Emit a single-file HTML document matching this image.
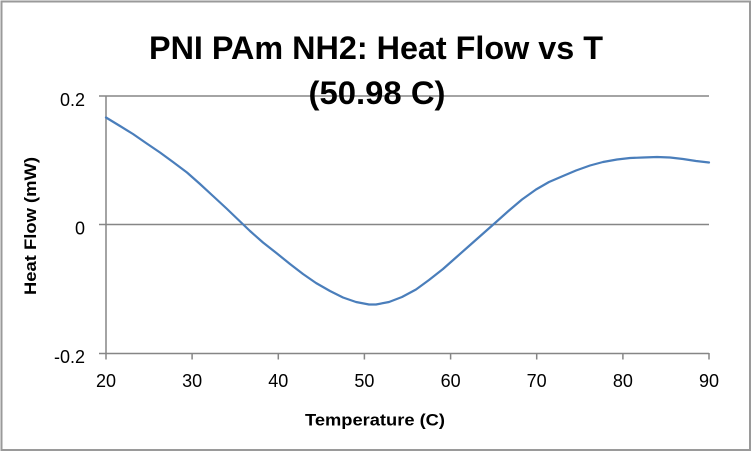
<!DOCTYPE html>
<html>
<head>
<meta charset="utf-8">
<style>
  html, body { margin: 0; padding: 0; background: #ffffff; }
  svg { display: block; }
  text { font-family: "Liberation Sans", "DejaVu Sans", sans-serif; fill: #000; }
</style>
</head>
<body>
<svg width="752" height="452" viewBox="0 0 752 452" xmlns="http://www.w3.org/2000/svg">
  <rect x="0" y="0" width="752" height="452" fill="#ffffff"/>
  <rect x="1.5" y="1.5" width="748.5" height="448.5" fill="none" stroke="#9a9a9a" stroke-width="2"/>

  <!-- gridlines -->
  <line x1="106" y1="96" x2="709" y2="96" stroke="#868686" stroke-width="1.5"/>
  <line x1="106" y1="224.5" x2="709" y2="224.5" stroke="#868686" stroke-width="1.5"/>

  <!-- axes -->
  <line x1="106" y1="96" x2="106" y2="353.5" stroke="#868686" stroke-width="1.5"/>
  <line x1="99" y1="353.5" x2="709" y2="353.5" stroke="#868686" stroke-width="1.5"/>

  <!-- y ticks -->
  <line x1="99" y1="96" x2="106" y2="96" stroke="#868686" stroke-width="1.5"/>
  <line x1="99" y1="224.5" x2="106" y2="224.5" stroke="#868686" stroke-width="1.5"/>

  <!-- x ticks -->
  <g stroke="#868686" stroke-width="1.5">
    <line x1="106" y1="353" x2="106" y2="359.5"/>
    <line x1="192.1" y1="353" x2="192.1" y2="359.5"/>
    <line x1="278.3" y1="353" x2="278.3" y2="359.5"/>
    <line x1="364.4" y1="353" x2="364.4" y2="359.5"/>
    <line x1="450.6" y1="353" x2="450.6" y2="359.5"/>
    <line x1="536.7" y1="353" x2="536.7" y2="359.5"/>
    <line x1="622.9" y1="353" x2="622.9" y2="359.5"/>
    <line x1="709" y1="353" x2="709" y2="359.5"/>
  </g>

  <!-- y tick labels -->
  <g font-size="18" text-anchor="end">
    <text x="85" y="106">0.2</text>
    <text x="85" y="234.5">0</text>
    <text x="85" y="363">-0.2</text>
  </g>

  <!-- x tick labels -->
  <g font-size="18" text-anchor="middle">
    <text x="106" y="387">20</text>
    <text x="192.1" y="387">30</text>
    <text x="278.3" y="387">40</text>
    <text x="364.4" y="387">50</text>
    <text x="450.6" y="387">60</text>
    <text x="536.7" y="387">70</text>
    <text x="622.9" y="387">80</text>
    <text x="709" y="387">90</text>
  </g>

  <!-- series -->
  <polyline fill="none" stroke="#4a7ebb" stroke-width="2.2" stroke-linejoin="round" stroke-linecap="round"
    points="106,117.5 120,126 133,134 146,143 160,152.5 173,162 187,172.5 200,184 213,196 226,208 238,219.5 250,231 263,242.5 277,253.5 290,264 303,274 316,283 330,291 343,297.5 356,302 369,304.5 376,304.5 389,302 402,297 416,289.5 429,280 443,269 456,257.5 469,246 482,234.5 495,223 509,210.5 522,199.5 536,189.5 549,182 563,176 576,170.5 590,165.5 603,162 617,159.5 630,158 643,157.5 657,157 670,157.5 683,159 696,161 709,162.5"/>

  <!-- title -->
  <text x="376" y="59" font-size="32" font-weight="bold" text-anchor="middle" textLength="454" lengthAdjust="spacingAndGlyphs">PNI PAm NH2: Heat Flow vs T</text>
  <text x="377" y="104" font-size="32" font-weight="bold" text-anchor="middle" textLength="137" lengthAdjust="spacingAndGlyphs">(50.98 C)</text>

  <!-- axis titles -->
  <text x="375" y="425.5" font-size="17" font-weight="bold" text-anchor="middle" textLength="140" lengthAdjust="spacingAndGlyphs">Temperature (C)</text>
  <text transform="translate(36,226) rotate(-90)" x="0" y="0" font-size="17" font-weight="bold" text-anchor="middle" textLength="138" lengthAdjust="spacingAndGlyphs">Heat Flow (mW)</text>
</svg>
</body>
</html>
